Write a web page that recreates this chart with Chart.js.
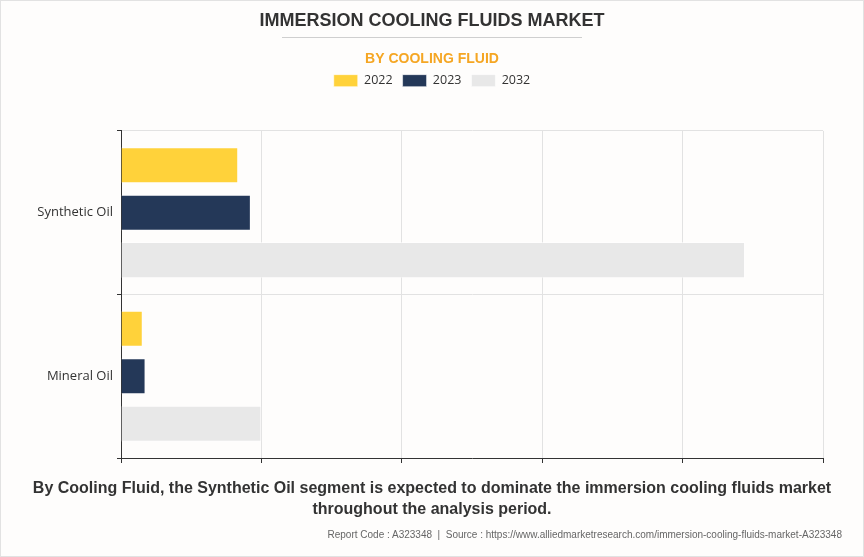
<!DOCTYPE html>
<html>
<head>
<meta charset="utf-8">
<script src="https://cdn.jsdelivr.net/npm/chart.js@4"></script>
<style>
  html, body { margin: 0; padding: 0; background: #fff; }
  #wrap {
    position: relative; width: 862px; height: 555px;
    border: 1px solid #e2e2e2; background: #fefdfc; overflow: hidden;
  }
  #chart { position: absolute; left: -1px; top: -1px; }
  .rule { position: absolute; left: 281px; top: 36px; width: 300px; height: 1px; background: #cfcfcf; }
  .note {
    position: absolute; left: 0; top: 476px; width: 862px; text-align: center;
    font: bold 16px "Liberation Sans", Arial, sans-serif; color: #333; line-height: 21px;
  }
  .source {
    position: absolute; right: 21px; top: 528px;
    font: 10px "Liberation Sans", Arial, sans-serif; color: #666;
  }
</style>
</head>
<body>
<div id="wrap">
  <canvas id="chart" width="864" height="557"></canvas>
  <div class="rule"></div>
  <div class="note">By Cooling Fluid, the Synthetic Oil segment is expected to dominate the immersion cooling fluids market<br>throughout the analysis period.</div>
  <div class="source">Report Code : A323348&nbsp; |&nbsp; Source : https://www.alliedmarketresearch.com/immersion-cooling-fluids-market-A323348</div>
</div>
<script>
// data
const categories = ['Synthetic Oil', 'Mineral Oil'];
const years = ['2022', '2023', '2032'];
const values2022 = [0.835, 0.155];
const values2023 = [0.925, 0.175];
const values2032 = [4.445, 1.0];
const xMax = 5;
const xStep = 1;

const colors = ['#ffd23a', '#243858', '#e8e8e8'];

// extra room under the legend, before the plot
const legendGap = {
  id: 'legendGap',
  beforeInit(chart) {
    const fit = chart.legend.fit;
    chart.legend.fit = function () {
      fit.bind(chart.legend)();
      this.height += 34;
    };
  }
};

const series = [values2022, values2023, values2032];

new Chart(document.getElementById('chart'), {
  type: 'bar',
  data: {
    labels: categories,
    datasets: years.map((y, i) => ({
      label: y,
      data: series[i],
      backgroundColor: colors[i],
      borderColor: 'rgba(255,255,255,0.55)',
      borderWidth: 1,
      categoryPercentage: 0.87,
      barPercentage: 0.76
    }))
  },
  options: {
    indexAxis: 'y',
    responsive: false,
    animation: false,
    layout: { padding: { top: 0, left: 10, right: 10, bottom: 94 } },
    scales: {
      x: {
        min: 0,
        max: xMax,
        ticks: { stepSize: xStep, display: false },
        grid: { color: '#e2e2e2', tickColor: '#333', tickLength: 5 },
        border: { color: '#333' }
      },
      y: {
        ticks: { color: '#333', padding: 4, font: { family: "'Open Sans', sans-serif", size: 13 } },
        grid: { color: '#e2e2e2', tickColor: '#333', tickLength: 4 },
        border: { color: '#333' },
        afterFit(scale) { scale.width = 111; }
      },
      // empty spacer on the right so the titles stay centred on the page
      yRight: {
        type: 'linear',
        position: 'right',
        grid: { display: false, drawTicks: false },
        ticks: { display: false },
        border: { display: false },
        afterFit(scale) { scale.width = 31; }
      }
    },
    plugins: {
      title: {
        display: true,
        text: 'IMMERSION COOLING FLUIDS MARKET',
        color: '#333',
        font: { family: "'Liberation Sans', Arial, sans-serif", size: 18, weight: 'bold' },
        padding: { top: 10, bottom: 8 }
      },
      subtitle: {
        display: true,
        text: 'BY COOLING FLUID',
        color: '#f5a623',
        font: { family: "'Liberation Sans', Arial, sans-serif", size: 14, weight: 'bold' },
        padding: { top: 11, bottom: -3 }
      },
      legend: {
        position: 'top',
        labels: {
          boxWidth: 24,
          boxHeight: 12,
          padding: 10,
          color: '#333',
          font: { family: "'Open Sans', sans-serif", size: 12.5 }
        }
      },
      tooltip: { enabled: false }
    }
  },
  plugins: [legendGap]
});
</script>
</body>
</html>
